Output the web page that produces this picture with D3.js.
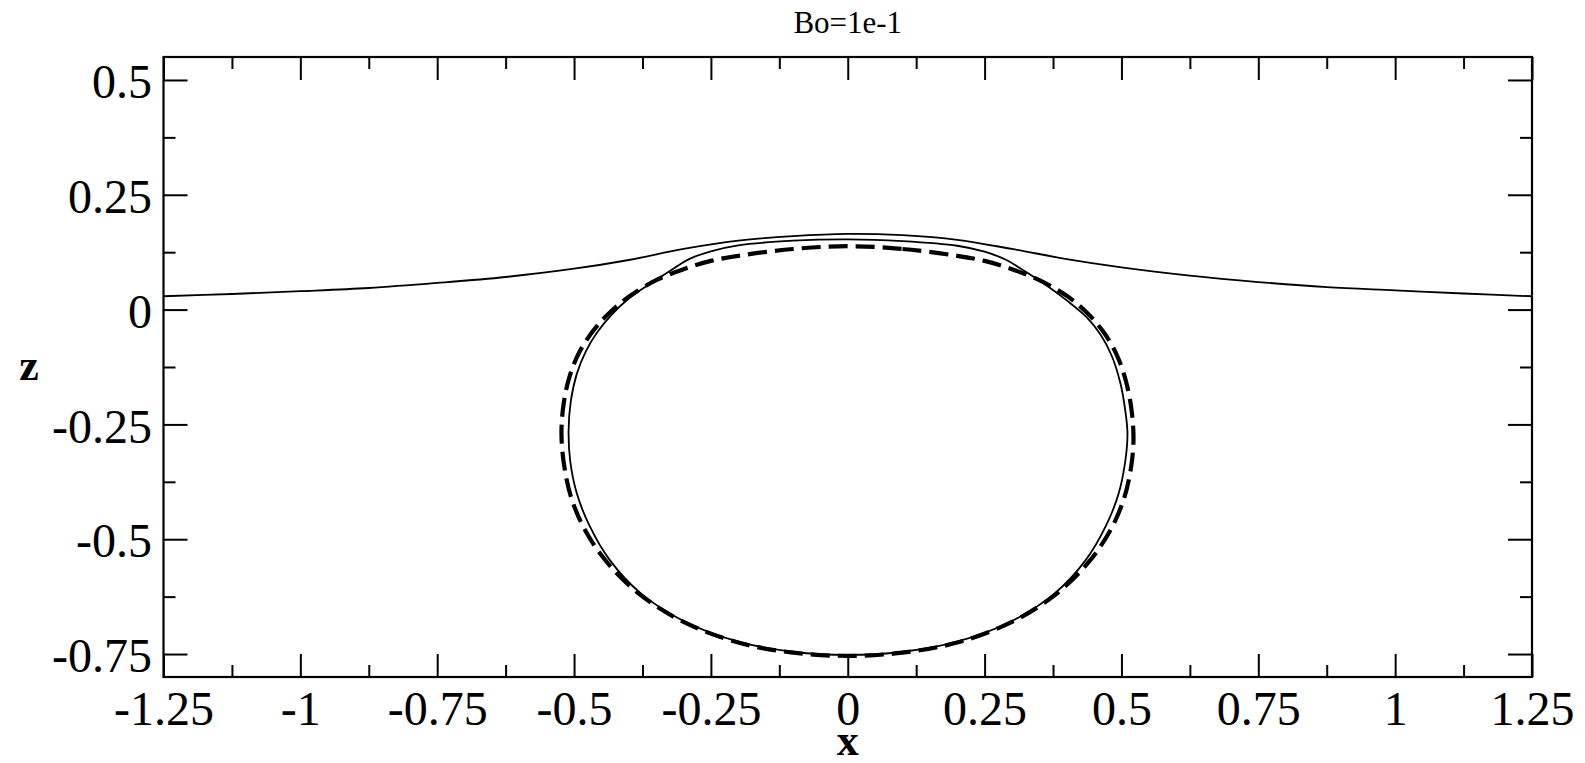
<!DOCTYPE html>
<html>
<head>
<meta charset="utf-8">
<script src="https://cdn.jsdelivr.net/npm/d3@7"></script>
<style>
  body { margin: 0; background: #fff; }
  svg { display: block; }
  text { font-family: "Liberation Serif", "Times New Roman", serif; fill: #000; }
</style>
</head>
<body>
<div id="chart"></div>
<script>
// Axis ticks
const xMajor = [-1.25, -1, -0.75, -0.5, -0.25, 0, 0.25, 0.5, 0.75, 1, 1.25];
const xMinor = [-1.125, -0.875, -0.625, -0.375, -0.125, 0.125, 0.375, 0.625, 0.875, 1.125];
const yMajor = [-0.75, -0.5, -0.25, 0, 0.25, 0.5];
const yMinor = [-0.625, -0.375, -0.125, 0.125, 0.375];
const xLabels = ["-1.25", "-1", "-0.75", "-0.5", "-0.25", "0", "0.25", "0.5", "0.75", "1", "1.25"];
const yLabels = ["-0.75", "-0.5", "-0.25", "0", "0.25", "0.5"];

// Free surface (solid, open)
const surfaceX = [-1.25, -1.125, -1.0, -0.875, -0.75, -0.625, -0.5, -0.4, -0.3, -0.2, -0.1, 0,
                  0.1, 0.2, 0.3, 0.4, 0.5, 0.625, 0.75, 0.875, 1.0, 1.125, 1.25];
const surfaceZ = [0.029, 0.034, 0.040, 0.047, 0.058, 0.071, 0.089, 0.108, 0.132, 0.150, 0.160, 0.165,
                  0.162, 0.152, 0.132, 0.110, 0.092, 0.074, 0.060, 0.049, 0.042, 0.035, 0.029];

// Bubble contour (solid, closed) - right half top to bottom, then left half bottom to top
const bubbleX = [0, 0.1, 0.2, 0.25, 0.29, 0.32, 0.36, 0.40, 0.435, 0.462, 0.482, 0.498, 0.507, 0.511,
                 0.507, 0.495, 0.472, 0.435, 0.378, 0.30, 0.20, 0.10, 0,
                 -0.10, -0.20, -0.30, -0.378, -0.435, -0.472, -0.495, -0.507, -0.510, -0.506,
                 -0.495, -0.478, -0.458, -0.432, -0.40, -0.36, -0.32, -0.29, -0.25, -0.2, -0.1];
const bubbleZ = [0.153, 0.149, 0.139, 0.126, 0.108, 0.086, 0.055, 0.020, -0.015, -0.055, -0.10, -0.16, -0.22, -0.27,
                 -0.33, -0.40, -0.47, -0.545, -0.618, -0.678, -0.723, -0.745, -0.752,
                 -0.745, -0.723, -0.678, -0.618, -0.545, -0.47, -0.40, -0.33, -0.265, -0.20,
                 -0.14, -0.09, -0.050, -0.012, 0.024, 0.057, 0.088, 0.110, 0.127, 0.140, 0.150];

// Model contour (dashed, closed)
const modelX = [0, 0.1, 0.2, 0.25, 0.30, 0.35, 0.40, 0.438, 0.468, 0.492, 0.508, 0.518, 0.522,
                0.518, 0.505, 0.48, 0.44, 0.38, 0.30, 0.20, 0.10, 0,
                -0.10, -0.20, -0.30, -0.38, -0.44, -0.48, -0.505, -0.518, -0.523, -0.519,
                -0.508, -0.490, -0.465, -0.438, -0.40, -0.35, -0.30, -0.25, -0.2, -0.1];
const modelZ = [0.138, 0.132, 0.117, 0.106, 0.088, 0.064, 0.030, -0.008, -0.050, -0.10, -0.155, -0.215, -0.28,
                -0.34, -0.41, -0.48, -0.55, -0.62, -0.68, -0.725, -0.747, -0.754,
                -0.747, -0.725, -0.68, -0.62, -0.55, -0.48, -0.41, -0.34, -0.27, -0.205,
                -0.145, -0.092, -0.046, -0.010, 0.028, 0.064, 0.088, 0.106, 0.117, 0.132];

const W = 1585, H = 763;
const margin = { top: 57, right: 53, bottom: 86, left: 163.5 };
const width = W - margin.left - margin.right;
const height = H - margin.top - margin.bottom;

const svg = d3.select("#chart").append("svg")
    .attr("width", W)
    .attr("height", H);

const g = svg.append("g")
    .attr("transform", `translate(${margin.left},${margin.top})`);

const x = d3.scaleLinear().domain([-1.25, 1.25]).range([0, width]);
const y = d3.scaleLinear().domain([-0.8, 0.55]).range([height, 0]);

// Axes: major and minor ticks on all four sides, pointing inward
function styleAxis(sel) {
    sel.select(".domain").remove();
    sel.selectAll("line").attr("stroke", "#000").attr("stroke-width", 2);
    sel.selectAll("text").attr("font-size", 48).attr("fill", "#000")
        .style("font-family", '"Liberation Serif", "Times New Roman", serif');
}

g.append("g")
    .attr("transform", `translate(0,${height})`)
    .call(d3.axisBottom(x).tickValues(xMajor).tickSize(-23).tickPadding(14)
        .tickFormat((d, i) => xLabels[i]))
    .call(styleAxis);
g.append("g")
    .attr("transform", `translate(0,${height})`)
    .call(d3.axisBottom(x).tickValues(xMinor).tickSize(-12).tickFormat(""))
    .call(styleAxis);
g.append("g")
    .call(d3.axisTop(x).tickValues(xMajor).tickSize(-23).tickFormat(""))
    .call(styleAxis);
g.append("g")
    .call(d3.axisTop(x).tickValues(xMinor).tickSize(-12).tickFormat(""))
    .call(styleAxis);

g.append("g")
    .call(d3.axisLeft(y).tickValues(yMajor).tickSize(-24).tickPadding(11.5)
        .tickFormat((d, i) => yLabels[i]))
    .call(styleAxis)
    .selectAll("text").attr("dy", "0.37em");
g.append("g")
    .call(d3.axisLeft(y).tickValues(yMinor).tickSize(-12).tickFormat(""))
    .call(styleAxis);
g.append("g")
    .attr("transform", `translate(${width},0)`)
    .call(d3.axisRight(y).tickValues(yMajor).tickSize(-24).tickFormat(""))
    .call(styleAxis);
g.append("g")
    .attr("transform", `translate(${width},0)`)
    .call(d3.axisRight(y).tickValues(yMinor).tickSize(-12).tickFormat(""))
    .call(styleAxis);

// Frame
g.append("rect")
    .attr("x", 0).attr("y", 0)
    .attr("width", width).attr("height", height)
    .attr("fill", "none")
    .attr("stroke", "#000")
    .attr("stroke-width", 2.2);

// Curves
const openLine = d3.line()
    .x(d => x(d[0])).y(d => y(d[1]))
    .curve(d3.curveCatmullRom);
const closedLine = d3.line()
    .x(d => x(d[0])).y(d => y(d[1]))
    .curve(d3.curveCatmullRomClosed);

const surface = surfaceX.map((v, i) => [v, surfaceZ[i]]);
const bubble = bubbleX.map((v, i) => [v, bubbleZ[i]]);
const model = modelX.map((v, i) => [v, modelZ[i]]);

g.append("path")
    .attr("d", closedLine(model))
    .attr("fill", "none")
    .attr("stroke", "#000")
    .attr("stroke-width", 4.2)
    .attr("stroke-dasharray", "19,8");

g.append("path")
    .attr("d", closedLine(bubble))
    .attr("fill", "none")
    .attr("stroke", "#000")
    .attr("stroke-width", 1.8);

g.append("path")
    .attr("d", openLine(surface))
    .attr("fill", "none")
    .attr("stroke", "#000")
    .attr("stroke-width", 1.8);

// Title and axis labels
svg.append("text")
    .attr("x", margin.left + width / 2)
    .attr("y", 33)
    .attr("text-anchor", "middle")
    .attr("font-size", 31)
    .text("Bo=1e-1");

svg.append("text")
    .attr("x", margin.left + width / 2)
    .attr("y", 755)
    .attr("text-anchor", "middle")
    .attr("font-size", 44)
    .attr("font-weight", "bold")
    .text("x");

svg.append("text")
    .attr("x", 29)
    .attr("y", 380)
    .attr("text-anchor", "middle")
    .attr("font-size", 44)
    .attr("font-weight", "bold")
    .text("z");
</script>
</body>
</html>
